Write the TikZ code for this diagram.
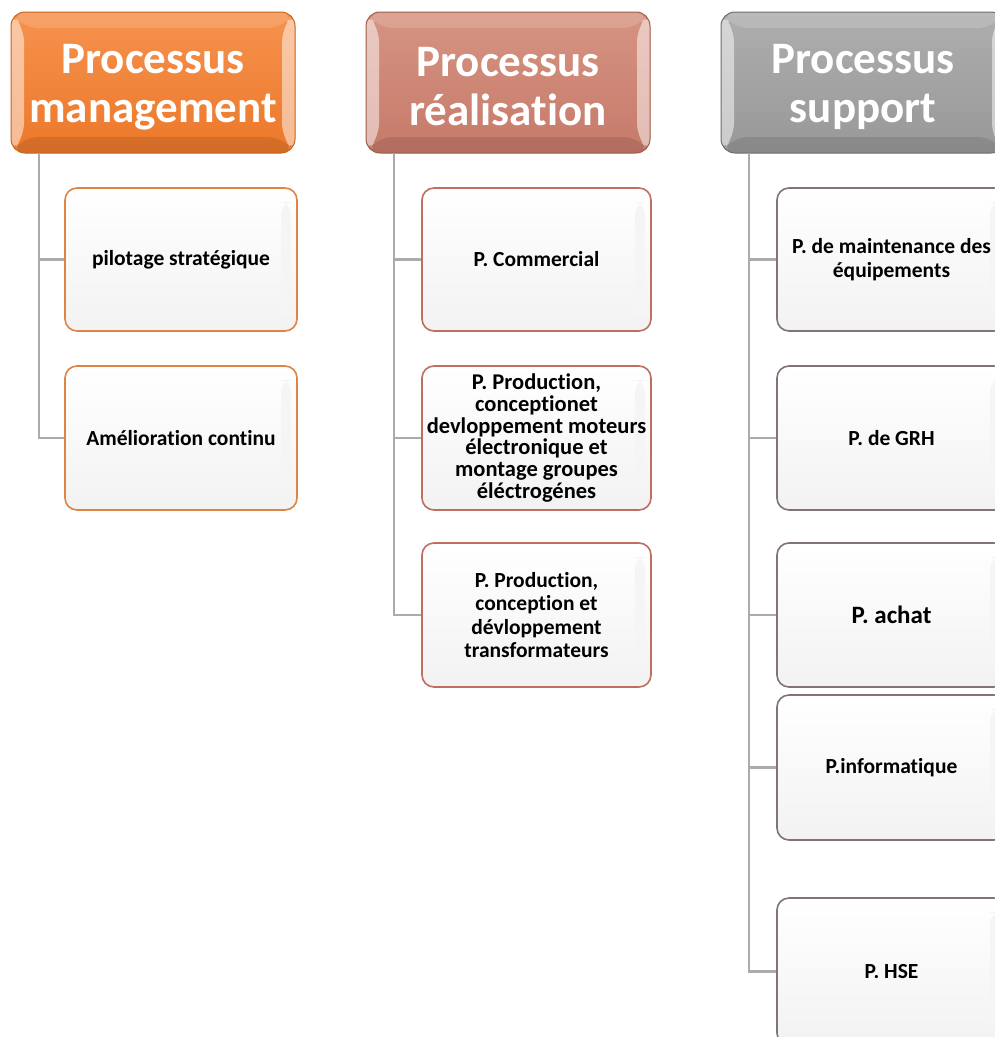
\documentclass[tikz,border=0pt]{standalone}
\usepackage{fontspec}
\setmainfont{Carlito}[RawFeature={-liga;-clig;-calt;-dlig}]
\begin{document}
\begin{tikzpicture}[x=1pt,y=-1pt,
  conn/.style={draw=black!33, line width=2.2pt},
  hdr/.style={rounded corners=14pt, minimum width=284pt, minimum height=141pt, inner sep=0pt,
    line width=1pt},
  hdrtext/.style={align=center, text=white, inner sep=0pt,
    font=\bfseries\fontsize{45}{49}\selectfont},
  kid/.style={rounded corners=12pt, minimum width=229pt, minimum height=143pt, inner sep=1pt,
    line width=1.6pt, align=center, text=black, top color=white, bottom color=black!5,
    font=\bfseries\fontsize{21.5}{23.5}\selectfont,
    path picture={\fill[black!4] ([shift={(-16,14)}]path picture bounding box.north east) rectangle ([shift={(-6,-14)}]path picture bounding box.south east);}},
  kidM/.style={kid, draw={rgb,255:red,222;green,132;blue,68}},
  kidR/.style={kid, draw={rgb,255:red,190;green,112;blue,96}},
  kidS/.style={kid, draw={rgb,255:red,128;green,116;blue,116}}
]
\newcommand\bevel[2]{%
  \coordinate (pNW) at (path picture bounding box.north west);
  \coordinate (pNE) at (path picture bounding box.north east);
  \coordinate (pSW) at (path picture bounding box.south west);
  \coordinate (pSE) at (path picture bounding box.south east);
  \fill[#1, opacity=0.5] (pNW) -- ([shift={(13,16)}]pNW) -- ([shift={(13,-16)}]pSW) -- (pSW) -- cycle;
  \fill[#1, opacity=0.5] (pNE) -- ([shift={(-13,16)}]pNE) -- ([shift={(-13,-16)}]pSE) -- (pSE) -- cycle;
  \fill[#1, opacity=0.15] (pNW) -- (pNE) -- ([shift={(-13,16)}]pNE) -- ([shift={(13,16)}]pNW) -- cycle;
  \fill[#2, opacity=0.1] (pSW) -- (pSE) -- ([shift={(-13,-16)}]pSE) -- ([shift={(13,-16)}]pSW) -- cycle;
}
\path[use as bounding box, clip] (0,0) rectangle (995,1037);
\fill[white] (0,0) rectangle (995,1037);

% headers
\node[hdr, draw={rgb,255:red,200;green,100;blue,30},
  top color={rgb,255:red,246;green,146;blue,78}, bottom color={rgb,255:red,236;green,120;blue,42},
  path picture={\bevel{white}{black}}] (mh) at (153,82.5) {};
\node[hdrtext] (mhT) at (153,87) {Processus\\management};
\node[hdr, draw={rgb,255:red,160;green,90;blue,74},
  top color={rgb,255:red,214;green,148;blue,130}, bottom color={rgb,255:red,198;green,122;blue,106},
  path picture={\bevel{white}{black}}] (rh) at (508,82.5) {};
\node[hdrtext] (rhT) at (508,87) {Processus\\réalisation};
\node[hdr, draw={rgb,255:red,110;green,110;blue,110},
  top color={rgb,255:red,174;green,174;blue,174}, bottom color={rgb,255:red,152;green,152;blue,152},
  path picture={\bevel{white}{black}}] (sh) at (863,82.5) {};
\node[hdrtext] (shT) at (863,87) {Processus\\support};

% management children
\node[kidM, minimum width=232pt] (m1) at (181,259.5) {pilotage stratégique};
\node[kidM, minimum width=232pt, minimum height=144pt] (m2) at (181,438) {Amélioration continu};

% realisation children
\node[kidR] (r1) at (536.5,259.5) {P. Commercial};
\node[kidR, minimum height=144pt, font=\bfseries\fontsize{22.5}{21.8}\selectfont] (r2) at (536.5,438) {P. Production,\\conceptionet\\devloppement moteurs\\électronique et\\montage groupes\\éléctrogénes};
\node[kidR, minimum height=144pt] (r3) at (536.5,615) {P. Production,\\conception et\\dévloppement\\transformateurs};

% support children
\node[kidS] (s1) at (891.5,259.5) {P. de maintenance des\\équipements};
\node[kidS, minimum height=144pt] (s2) at (891.5,438) {P. de GRH};
\node[kidS, minimum height=144pt, font=\bfseries\fontsize{25}{27}\selectfont] (s3) at (891.5,615) {P. achat};
\node[kidS, minimum height=145pt] (s4) at (891.5,767.5) {P.informatique};
\node[kidS, minimum height=147pt] (s5) at (891.5,971.5) {P. HSE};

% connectors
\coordinate (mt) at (39,153);
\coordinate (rt) at (394,153);
\coordinate (st) at (749,153);
\draw[conn] (mt) |- (m1.west);
\draw[conn] (mt) |- (m2.west);
\draw[conn] (rt) |- (r1.west);
\draw[conn] (rt) |- (r2.west);
\draw[conn] (rt) |- (r3.west);
\draw[conn] (st) |- (s1.west);
\draw[conn] (st) |- (s2.west);
\draw[conn] (st) |- (s3.west);
\draw[conn] (st) |- (s4.west);
\draw[conn] (st) |- (s5.west);
\end{tikzpicture}
\end{document}
